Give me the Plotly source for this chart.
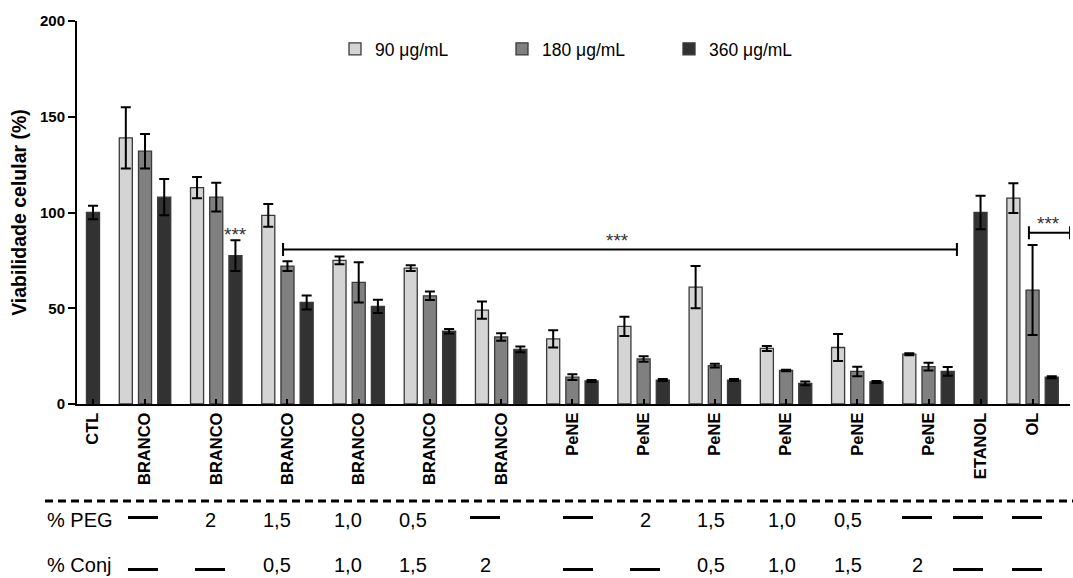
import plotly.graph_objects as go

# ---------------- data ----------------
groups = ["CTL", "BRANCO", "BRANCO", "BRANCO", "BRANCO", "BRANCO", "BRANCO",
          "PeNE", "PeNE", "PeNE", "PeNE", "PeNE", "PeNE", "ETANOL", "OL"]
series_names = ["90 μg/mL", "180 μg/mL", "360 μg/mL"]

v90 = [None, 139, 113, 98.5, 75, 71, 49, 34, 40.5, 61, 29, 29.5, 26, None, 107.5]
e90 = [None, 16, 5.5, 6, 2, 1.5, 4.5, 4.5, 5, 11, 1.3, 7, 0.5, None, 7.8]
v180 = [None, 132, 108, 72, 63.5, 56.5, 35, 14, 23.5, 20, 17.5, 17, 19.5, None, 59.5]
e180 = [None, 9, 7.5, 2.5, 10.5, 2.2, 2, 1.5, 1.5, 1, 0.4, 2.5, 2, None, 23.5]
v360 = [100, 108, 77.5, 53, 51, 38, 28.5, 12, 12.5, 12.5, 10.8, 11.5, 17, 100, 14]
e360 = [3.5, 9.5, 8, 3.7, 3.5, 1.2, 1.5, 0.5, 0.5, 0.5, 1, 0.5, 2.3, 8.7, 0.5]

peg_row = [None, "2", "1,5", "1,0", "0,5", None, None, "2", "1,5", "1,0", "0,5", None, None, None]
conj_row = [None, None, "0,5", "1,0", "1,5", "2", None, None, "0,5", "1,0", "1,5", "2", None, None]
row_labels = ["% PEG", "% Conj"]
y_ticks = [0, 50, 100, 150, 200]

# ---------------- style / layout ----------------
colors = ["#d4d4d4", "#808080", "#323232"]
GAP = 1.71
BAR_W = 0.68
FONT = "Liberation Sans, Arial, sans-serif"
PL, PR, PT, PB = 77, 1070, 21, 404


def px_x(px):
    return (px - PL) / (PR - PL)


def px_y(py):
    return (PB - py) / (PB - PT)


values = [v90, v180, v360]
errors = [e90, e180, e360]
xs = [[None] * len(groups) for _ in range(3)]
centers = []
pos = None
for gi in range(len(groups)):
    present = [k for k in range(3) if values[k][gi] is not None]
    gp = []
    for j, k in enumerate(present):
        if pos is None:
            pos = 0.0
        elif j == 0:
            pos += GAP
        else:
            pos += 1.0
        xs[k][gi] = pos
        gp.append(pos)
    centers.append(sum(gp) / len(gp))

fig = go.Figure()
for k in range(3):
    idx = [i for i in range(len(groups)) if values[k][i] is not None]
    fig.add_trace(go.Bar(
        x=[xs[k][i] for i in idx],
        y=[values[k][i] for i in idx],
        width=BAR_W,
        name=series_names[k],
        marker=dict(color=colors[k], line=dict(color="#3a3a3a", width=1.3)),
        error_y=dict(type="data", array=[errors[k][i] for i in idx],
                     color="black", thickness=2, width=5, visible=True),
    ))

fig.update_layout(
    width=1073, height=578,
    margin=dict(l=PL, r=1073 - PR, t=PT, b=578 - PB),
    paper_bgcolor="white", plot_bgcolor="white",
    barmode="overlay",
    font=dict(family=FONT, color="black"),
    legend=dict(orientation="h", x=px_x(335), y=px_y(49), xanchor="left", yanchor="middle",
                font=dict(size=17.5, family=FONT), entrywidth=122, entrywidthmode="pixels",
                bgcolor="rgba(0,0,0,0)", traceorder="normal"),
)

fig.update_xaxes(
    range=[-0.833, 50.89], showgrid=False, zeroline=False,
    showline=True, linecolor="black", linewidth=2,
    tickmode="array", tickvals=centers, ticktext=groups,
    ticks="inside", ticklen=5, tickwidth=2, tickcolor="black",
    tickangle=-90, tickfont=dict(size=16.5, family=FONT, weight="bold"),
)
fig.update_yaxes(
    range=[0, 200], showgrid=False, zeroline=False,
    showline=True, linecolor="black", linewidth=2,
    tickmode="array", tickvals=y_ticks,
    ticks="outside", ticklen=7, tickwidth=2, tickcolor="black",
    tickfont=dict(size=15, family=FONT, weight="bold"),
    title=dict(text="Viabilidade celular (%)", font=dict(size=19.5, family=FONT, weight="bold"),
               standoff=8),
)

shapes = []
annotations = []


def bracket(x0, x1, y, cap):
    shapes.append(dict(type="line", xref="x", yref="y", x0=x0, x1=x1, y0=y, y1=y,
                       line=dict(color="black", width=2)))
    for xx in (x0, x1):
        shapes.append(dict(type="line", xref="x", yref="y", x0=xx, x1=xx, y0=y - cap, y1=y + cap,
                           line=dict(color="black", width=2)))


def stars(x, y):
    annotations.append(dict(text="***", x=x, y=y, xref="x", yref="y", showarrow=False,
                            font=dict(size=19, family=FONT, color="#333333"),
                            xanchor="center", yanchor="middle"))


# significance marks
bracket(9.9, 45.0, 80.7, 3.4)
stars(27.3, 85.5)
stars(xs[2][2], 88.5)
bracket(48.75, 50.89, 89.4, 3.4)
stars(49.75, 94.5)

# table under the chart
shapes.append(dict(type="line", xref="paper", yref="paper", x0=px_x(45), x1=px_x(1073),
                   y0=px_y(501), y1=px_y(501), line=dict(color="black", width=3, dash="8px,5px")))
table_cols = [143, 210, 277, 348, 413, 485, 578, 645, 711, 782, 848, 917, 968, 1027]
row_text_y = [520, 565]
row_dash_y = [517.5, 569.5]
DASH_HALF = 15
for r, row in enumerate([peg_row, conj_row]):
    annotations.append(dict(text=row_labels[r], x=px_x(45), y=px_y(row_text_y[r]), xref="paper",
                            yref="paper", showarrow=False, xanchor="left", yanchor="middle",
                            font=dict(size=20, family=FONT, color="black")))
    for c, val in enumerate(row):
        if val is None:
            shapes.append(dict(type="line", xref="paper", yref="paper",
                               x0=px_x(table_cols[c] - DASH_HALF), x1=px_x(table_cols[c] + DASH_HALF),
                               y0=px_y(row_dash_y[r]), y1=px_y(row_dash_y[r]),
                               line=dict(color="black", width=3)))
        else:
            annotations.append(dict(text=val, x=px_x(table_cols[c]), y=px_y(row_text_y[r]), xref="paper",
                                    yref="paper", showarrow=False, xanchor="center", yanchor="middle",
                                    font=dict(size=20, family=FONT, color="black")))

fig.update_layout(shapes=shapes, annotations=annotations)
fig.write_html("out.html")
